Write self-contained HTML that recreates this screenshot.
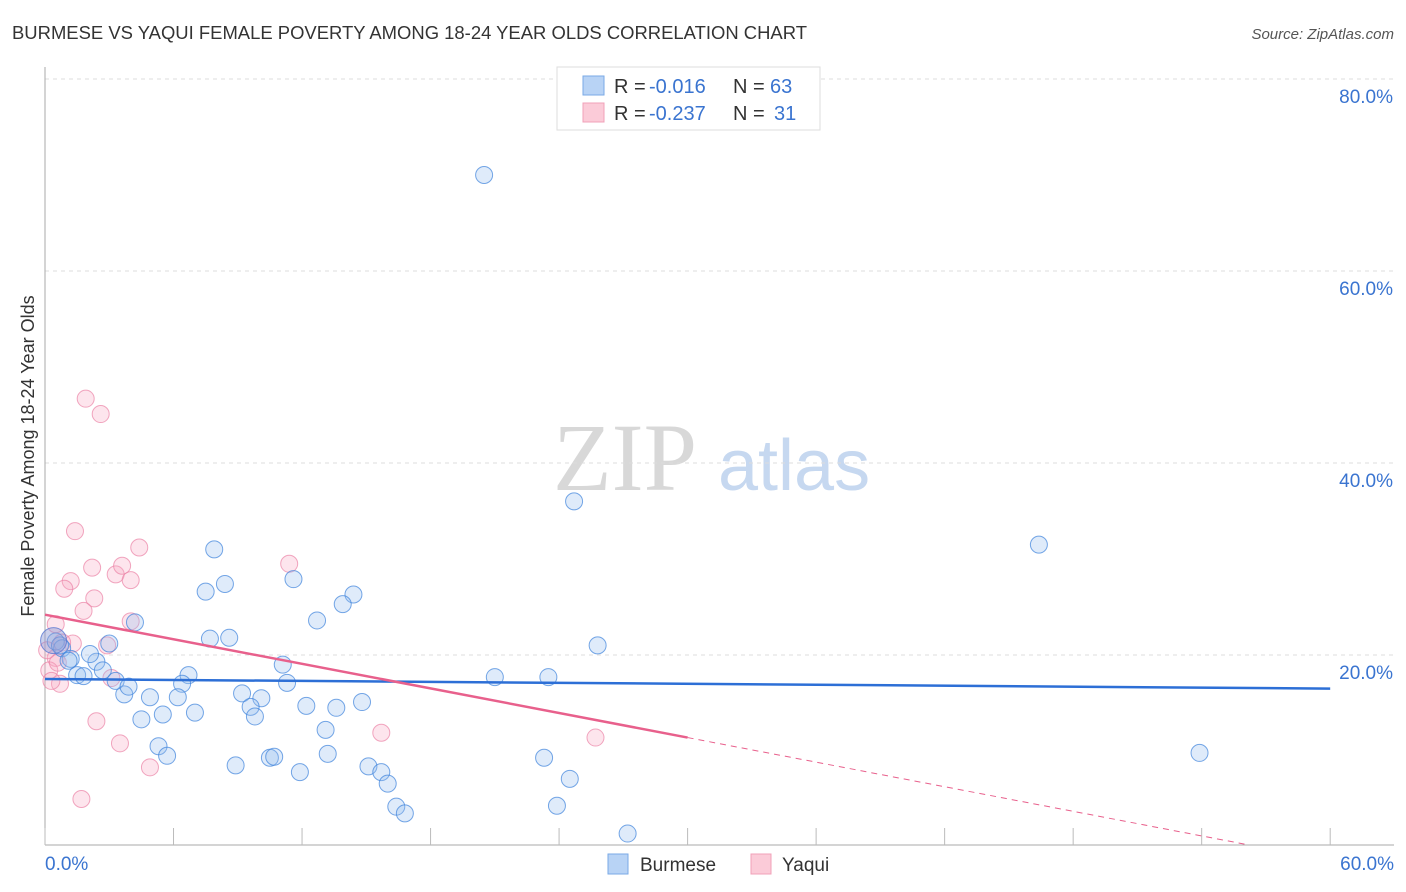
<!DOCTYPE html>
<html><head><meta charset="utf-8"><style>
body{margin:0;background:#fff;font-family:"Liberation Sans",sans-serif;}
svg{display:block}
</style></head><body>
<svg id="chart" width="1406" height="892" xmlns="http://www.w3.org/2000/svg">
<text x="12" y="39" font-size="18" fill="#333" textLength="795" lengthAdjust="spacingAndGlyphs">BURMESE VS YAQUI FEMALE POVERTY AMONG 18-24 YEAR OLDS CORRELATION CHART</text>
<text x="1394" y="39" font-size="15" fill="#555" font-style="italic" text-anchor="end">Source: ZipAtlas.com</text>
<g>
<text x="553" y="490" font-size="96" fill="#d8d8d8" font-family="Liberation Serif,serif">ZIP</text>
<text x="718" y="490" font-size="72" fill="#c6d8f0">atlas</text>
</g>
<g id="grid"></g>
<g id="axes"></g>
<text transform="translate(34,456) rotate(-90)" font-size="18" fill="#333" text-anchor="middle">Female Poverty Among 18-24 Year Olds</text>
<g id="points"></g>
<g id="trends"></g>
<g>
<rect x="557" y="67" width="263" height="63" fill="#fff" stroke="#ddd"/>
<rect x="583" y="76" width="21" height="19" fill="#b8d3f5" stroke="#7aa9e6"/>
<rect x="583" y="103" width="21" height="19" fill="#fbcbd8" stroke="#f0a0b8"/>
<g font-size="20">
<text x="614" y="93" fill="#333">R =</text><text x="649" y="93" fill="#3a74d0">-0.016</text>
<text x="733" y="93" fill="#333">N =</text><text x="770" y="93" fill="#3a74d0">63</text></g>
<g font-size="20">
<text x="614" y="120" fill="#333">R =</text><text x="649" y="120" fill="#3a74d0">-0.237</text>
<text x="733" y="120" fill="#333">N =</text><text x="774" y="120" fill="#3a74d0">31</text></g>
</g>
<g>
<rect x="608" y="854" width="20" height="20" fill="#b8d3f5" stroke="#7aa9e6"/>
<text x="640" y="871" font-size="19" fill="#333">Burmese</text>
<rect x="751" y="854" width="20" height="20" fill="#fbcbd8" stroke="#f0a0b8"/>
<text x="782" y="871" font-size="19" fill="#333">Yaqui</text>
</g>
</svg>
<script>
const yTicks=[20,40,60,80];
const yTickLabels=["20.0%","40.0%","60.0%","80.0%"];
const xTickLabels=["0.0%","60.0%"];
const burmeseX=[20.5,24.7,46.4,53.9,25.8,23.5,21.0,23.3,24.5,23.9,27.2,7.9,8.4,7.5,11.6,14.4,13.9,12.7,7.7,8.6,4.2,3.0,11.1,11.3,6.7,6.4,9.2,10.1,4.9,3.7,6.2,9.6,9.8,12.2,13.6,14.8,7.0,5.5,4.5,13.1,13.2,5.3,5.7,8.9,10.5,10.7,11.9,15.1,15.7,16.0,16.4,16.8,0.5,0.8,1.2,1.1,1.5,2.4,2.1,2.7,3.3,3.9,1.8,0.7];
const burmeseY=[70.0,36.0,31.5,9.8,21.0,17.7,17.7,9.3,7.1,4.3,1.4,31.0,27.4,26.6,27.9,26.3,25.3,23.6,21.7,21.8,23.4,21.2,19.0,17.1,17.9,17.0,16.0,15.5,15.6,15.9,15.6,14.6,13.6,14.7,14.5,15.1,14.0,13.8,13.3,12.2,9.7,10.5,9.5,8.5,9.3,9.4,7.8,8.4,7.8,6.6,4.2,3.5,21.4,20.7,19.6,19.4,17.9,19.3,20.1,18.4,17.3,16.7,17.8,21.0];
const yaquiX=[1.9,2.6,1.4,4.4,1.2,2.2,3.3,3.6,4.0,0.9,2.3,1.8,4.0,0.5,11.4,2.9,1.3,0.5,0.2,0.7,0.3,3.1,2.4,3.5,4.9,1.7,15.7,25.7,0.8,0.1,0.6];
const yaquiY=[46.7,45.1,32.9,31.2,27.7,29.1,28.4,29.3,27.8,26.9,25.9,24.6,23.5,23.2,29.5,21.0,21.2,19.7,18.4,17.0,17.3,17.6,13.1,10.8,8.3,5.0,11.9,11.4,21.3,20.5,19.2];
const burmeseTrend=[0,17.5,60,16.5];
const yaquiTrend=[0,24.2,30,11.4,56,0.3];
const X=v=>45+v*21.42, Y=v=>847-v*9.6;
const NS="http://www.w3.org/2000/svg";
function mk(tag,attrs,parent){const e=document.createElementNS(NS,tag);for(const k in attrs)e.setAttribute(k,attrs[k]);parent.appendChild(e);return e;}
const grid=document.getElementById('grid'),axes=document.getElementById('axes');
yTicks.forEach((t,i)=>{
 const l=mk('line',{x1:45,x2:1394,y1:Y(t),y2:Y(t),stroke:'#ddd','stroke-dasharray':'4,4'},grid);
 
 
 const tx=mk('text',{x:1393,y:Y(t)+24,'font-size':19,fill:'#3a74d0','text-anchor':'end'},axes);
 tx.textContent=yTickLabels[i];
 
 
});
const al=mk('line',{x1:45,x2:45,y1:67,y2:845,stroke:'#aaa'},axes);


const bl=mk('line',{x1:45,x2:1394,y1:845,y2:845,stroke:'#aaa'},axes);


for(let i=0;i<=10;i++){const t=mk('line',{x1:X(i*6),x2:X(i*6),y1:828,y2:845,stroke:'#bbb'},axes);
 
 }
[[0,'start',45],[60,'end',1394]].forEach((d,i)=>{const t=mk('text',{x:d[2],y:870,'font-size':19,fill:'#3a74d0','text-anchor':d[1]},axes);t.textContent=xTickLabels[i];
 
 });
const pts=document.getElementById('points');
yaquiX.forEach((x,i)=>{const c=mk('circle',{cx:X(x),cy:Y(yaquiY[i]),r:8.5,fill:'rgba(248,170,195,0.3)',stroke:'rgba(235,130,165,0.7)','stroke-width':1},pts);
 
 });
burmeseX.forEach((x,i)=>{const c=mk('circle',{cx:X(x),cy:Y(burmeseY[i]),r:8.5,fill:'rgba(150,190,240,0.3)',stroke:'rgba(60,130,220,0.7)','stroke-width':1},pts);
 
 });
const big=mk('circle',{cx:X(0.4),cy:Y(21.5),r:13,fill:'rgba(140,150,210,0.45)',stroke:'rgba(90,120,210,0.8)'},pts);


const tr=document.getElementById('trends');
const b=mk('line',{x1:X(burmeseTrend[0]),y1:Y(burmeseTrend[1]),x2:X(burmeseTrend[2]),y2:Y(burmeseTrend[3]),stroke:'#2d6fd6','stroke-width':2.5},tr);


const p=mk('line',{x1:X(yaquiTrend[0]),y1:Y(yaquiTrend[1]),x2:X(yaquiTrend[2]),y2:Y(yaquiTrend[3]),stroke:'#e8608c','stroke-width':2.5},tr);


const pd=mk('line',{x1:X(yaquiTrend[2]),y1:Y(yaquiTrend[3]),x2:X(yaquiTrend[4]),y2:Y(yaquiTrend[5]),stroke:'#e8608c','stroke-width':1,'stroke-dasharray':'6,5'},tr);


</script>
</body></html>
